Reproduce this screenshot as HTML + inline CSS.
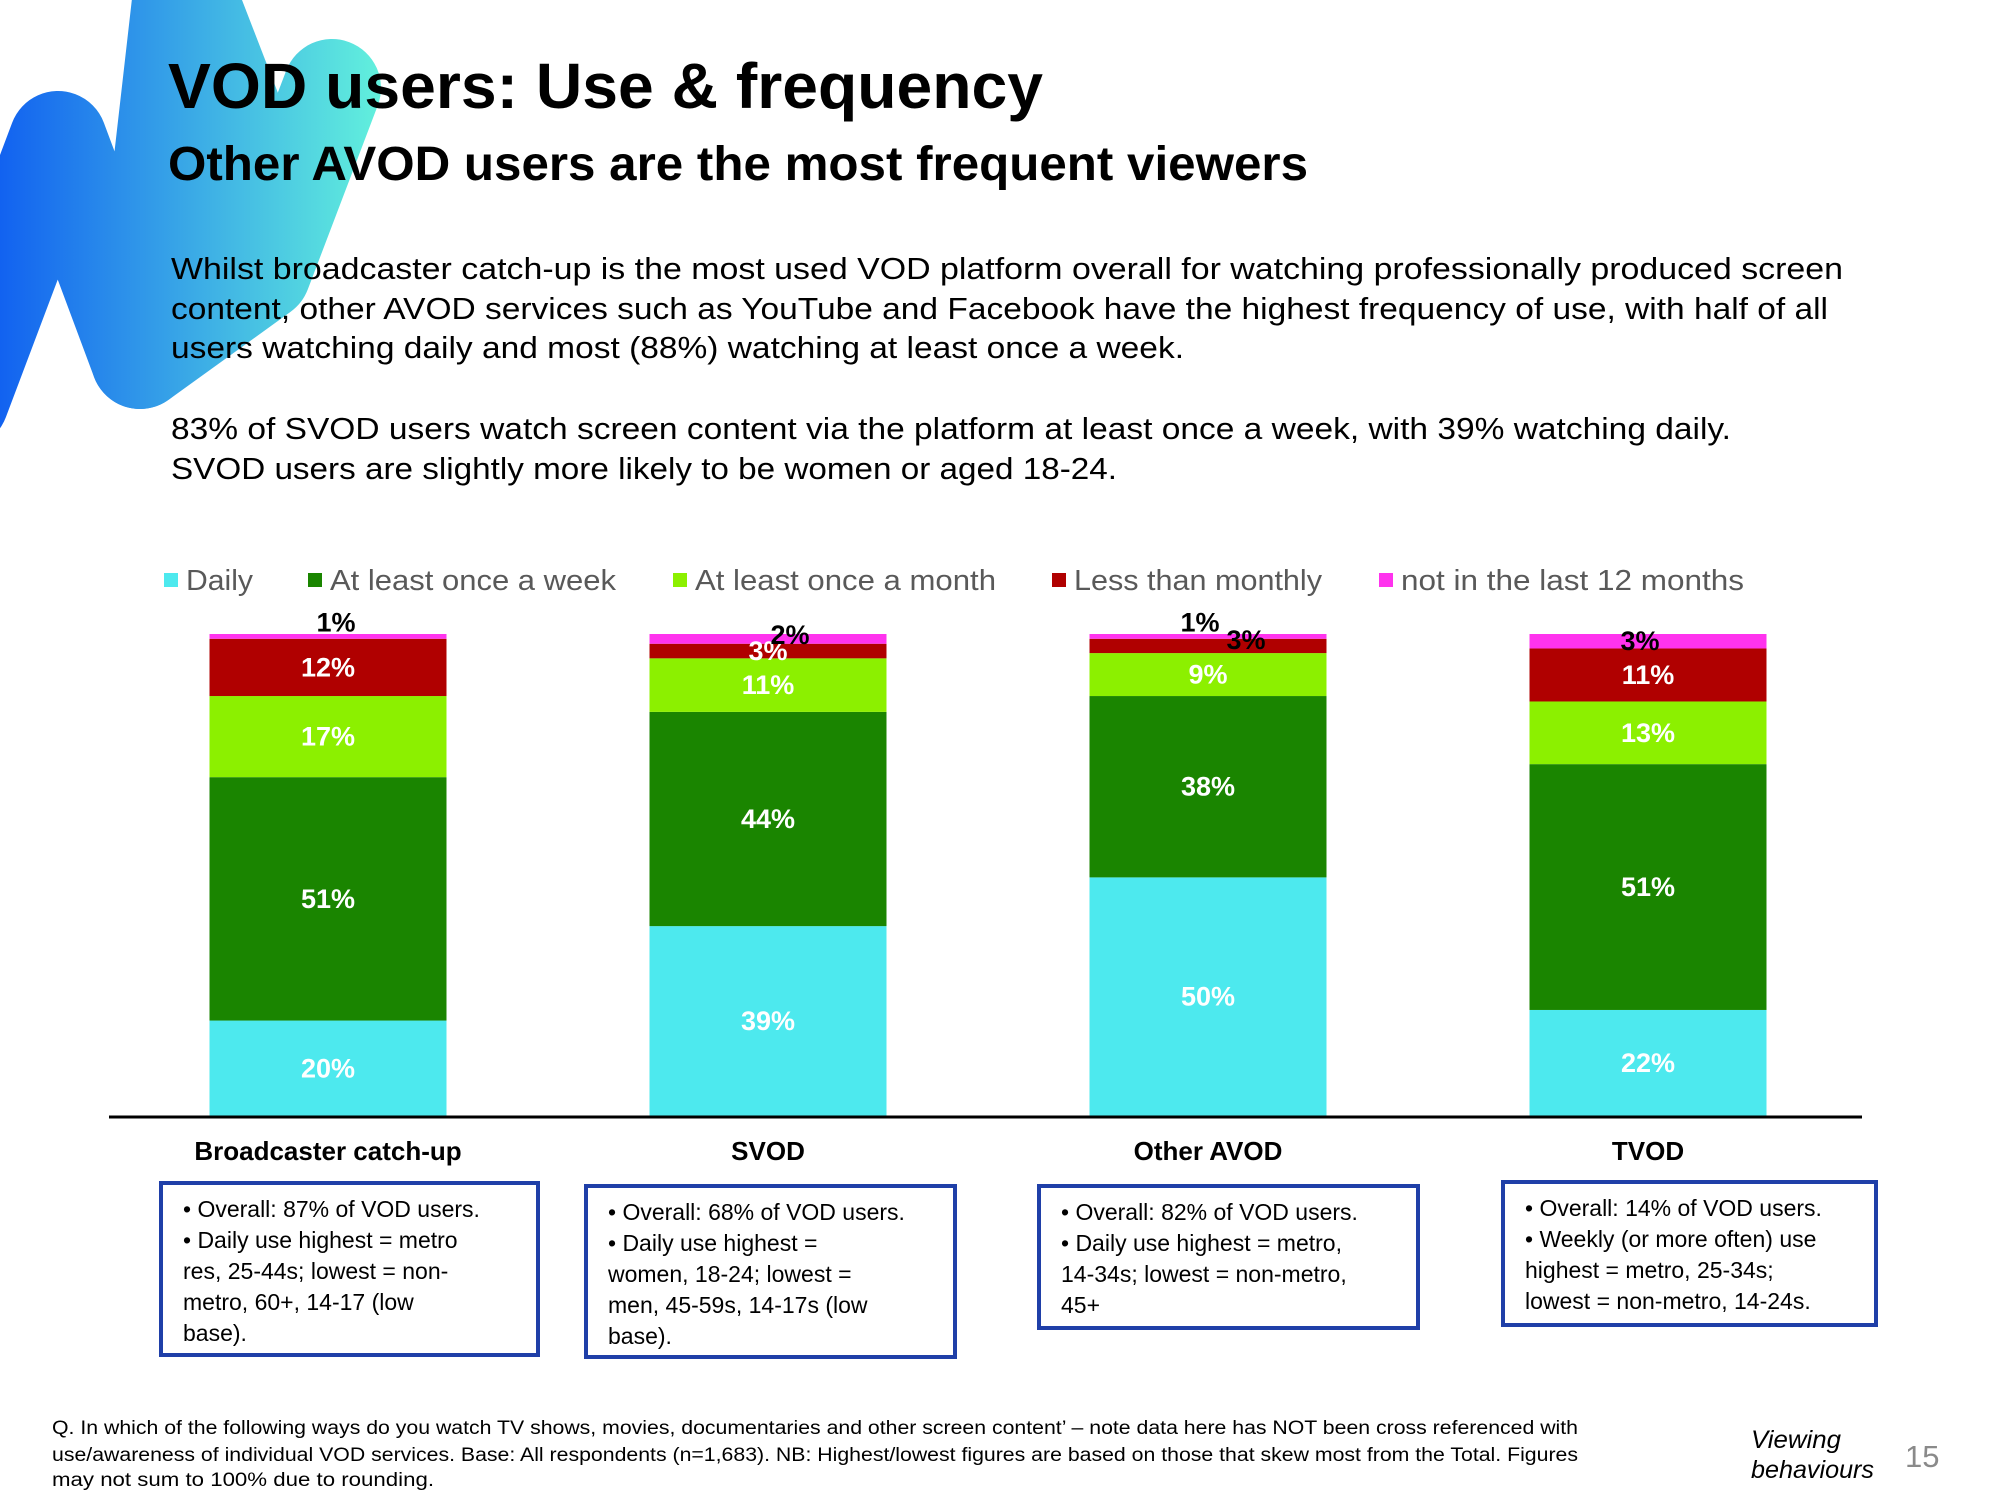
<!DOCTYPE html>
<html><head><meta charset="utf-8"><title>VOD users: Use &amp; frequency</title>
<style>
html,body{margin:0;padding:0;background:#fff;}
svg{display:block;}
.h{font-family:"Liberation Sans","DejaVu Sans",sans-serif;}
</style></head>
<body>
<svg id="page" width="2000" height="1500" viewBox="0 0 2000 1500" xmlns="http://www.w3.org/2000/svg">
<defs>
<linearGradient id="swg" gradientUnits="userSpaceOnUse" x1="0" y1="0" x2="390" y2="0">
<stop offset="0" stop-color="#1262f0"/><stop offset="1" stop-color="#64f4dc"/></linearGradient>
</defs>
<g fill="none" stroke="url(#swg)" stroke-width="98" stroke-linecap="round" stroke-linejoin="round">
<path d="M -40 400 L 58 140 L 140 360 L 188 -60"/>
<path d="M 332 88 L 262 272 L 140 360"/>
<polygon points="190,0 242,0 300,150 262,272 190,300 150,200" fill="url(#swg)" stroke="none"/>
</g>
<g class="h">
<text x="168" y="108" font-size="64" font-weight="bold" fill="#000" textLength="875" lengthAdjust="spacingAndGlyphs">VOD users: Use &amp; frequency</text>
<text x="168" y="180" font-size="48" font-weight="bold" fill="#000" textLength="1140" lengthAdjust="spacingAndGlyphs">Other AVOD users are the most frequent viewers</text>
</g>
<g class="h" font-size="31" fill="#000">
<text x="171" y="279" textLength="1672" lengthAdjust="spacingAndGlyphs">Whilst broadcaster catch-up is the most used VOD platform overall for watching professionally produced screen</text>
<text x="171" y="319" textLength="1657" lengthAdjust="spacingAndGlyphs">content, other AVOD services such as YouTube and Facebook have the highest frequency of use, with half of all</text>
<text x="171" y="358" textLength="1013" lengthAdjust="spacingAndGlyphs">users watching daily and most (88%) watching at least once a week.</text>
<text x="171" y="439" textLength="1560" lengthAdjust="spacingAndGlyphs">83% of SVOD users watch screen content via the platform at least once a week, with 39% watching daily.</text>
<text x="171" y="479" textLength="946" lengthAdjust="spacingAndGlyphs">SVOD users are slightly more likely to be women or aged 18-24.</text>
</g>
<g id="legend" class="h"></g>
<g id="chart" class="h"></g>
<g id="boxes" class="h"></g>
<g class="h" font-size="19" fill="#000">
<text x="52" y="1434" textLength="1526" lengthAdjust="spacingAndGlyphs">Q. In which of the following ways do you watch TV shows, movies, documentaries and other screen content’ – note data here has NOT been cross referenced with</text>
<text x="52" y="1461" textLength="1526" lengthAdjust="spacingAndGlyphs">use/awareness of individual VOD services. Base: All respondents (n=1,683). NB: Highest/lowest figures are based on those that skew most from the Total. Figures</text>
<text x="52" y="1486" textLength="382" lengthAdjust="spacingAndGlyphs">may not sum to 100% due to rounding.</text>
<text x="1751" y="1448" font-size="25" font-style="italic" textLength="90" lengthAdjust="spacingAndGlyphs">Viewing</text>
<text x="1751" y="1478" font-size="25" font-style="italic" textLength="123" lengthAdjust="spacingAndGlyphs">behaviours</text>
<text x="1905" y="1467" font-size="31" fill="#8a8a8a">15</text>
</g>
</svg>
<script>
const categories = ["Broadcaster catch-up", "SVOD", "Other AVOD", "TVOD"];
const seriesNames = ["Daily", "At least once a week", "At least once a month", "Less than monthly", "not in the last 12 months"];
const daily = [20, 39, 50, 22];
const weekly = [51, 44, 38, 51];
const monthly = [17, 11, 9, 13];
const lessMonthly = [12, 3, 3, 11];
const notLast12 = [1, 2, 1, 3];
const seriesColors = ["#4de9ee", "#1a8500", "#8cf000", "#b00000", "#ff33ee"];

const NS = "http://www.w3.org/2000/svg";
function mk(tag, attrs, parent) {
  const e = document.createElementNS(NS, tag);
  for (const k in attrs) e.setAttribute(k, attrs[k]);
  parent.appendChild(e);
  return e;
}
const series = [daily, weekly, monthly, lessMonthly, notLast12];
const plotLeft = 109, plotRight = 1869, plotTop = 634, plotBottom = 1116;
const slot = 440;
const barW = 237;
function xCenter(i) { return plotLeft + slot * (i + 0.5) - 1; }
function yScale(frac) { return plotBottom - frac * (plotBottom - plotTop); }

// legend
const legend = document.getElementById("legend");
const legX = [164, 308, 673, 1052, 1379];
const legW = [67, 286, 301, 248, 343];
seriesNames.forEach((n, s) => {
  const sw = mk("rect", {x: legX[s], y: 573, width: 14, height: 14, fill: seriesColors[s]}, legend);
  
  
  const t = mk("text", {x: legX[s] + 22, y: 590, "font-size": 29, fill: "#595959", textLength: legW[s], lengthAdjust: "spacingAndGlyphs"}, legend);
  t.textContent = n;
  
  
});

// bars
const chart = document.getElementById("chart");
const smallLabelDx = {"0-4": 8, "1-4": 22, "2-4": -8, "2-3": 38, "3-4": -8};
const smallLabelDy = {"0-4": -14, "1-4": -4, "2-4": -14, "2-3": -6, "3-4": 0};
categories.forEach((c, i) => {
  let total = 0;
  series.forEach(s => total += s[i]);
  let cum = 0;
  const cx = xCenter(i);
  const labels = [];
  series.forEach((s, k) => {
    const y0 = yScale(cum / total), y1 = yScale((cum + s[i]) / total);
    const r = mk("rect", {x: cx - barW / 2, y: y1, width: barW, height: y0 - y1, fill: seriesColors[k]}, chart);
    
    
    const key = i + "-" + k;
    const small = s[i] <= 3;
    const dark = small && !(i === 1 && k === 3);
    labels.push({x: cx + (smallLabelDx[key] || 0), y: (y0 + y1) / 2 + (smallLabelDy[key] || 0), v: s[i], dark: dark});
    cum += s[i];
  });
  labels.forEach(l => {
    const t = mk("text", {x: l.x, y: l.y, "text-anchor": "middle", "dominant-baseline": "central", "font-size": 27, "font-weight": "bold", fill: l.dark ? "#000" : "#fff"}, chart);
    t.textContent = l.v + "%";
    
    
  });
  const cl = mk("text", {x: cx, y: 1160, "text-anchor": "middle", "font-size": 26, "font-weight": "bold", fill: "#000"}, chart);
  cl.textContent = c;
  
  
});
const axis = mk("line", {x1: plotLeft, x2: 1862, y1: plotBottom + 1, y2: plotBottom + 1, stroke: "#000", "stroke-width": 3}, chart);



// note boxes
const boxes = document.getElementById("boxes");
const boxRects = [[161, 1183, 377, 172], [586, 1186, 369, 171], [1039, 1186, 379, 142], [1503, 1182, 373, 143]];
const boxLines = [
  ["• Overall: 87% of VOD users.", "• Daily use highest = metro", "res, 25-44s; lowest = non-", "metro, 60+, 14-17 (low", "base)."],
  ["• Overall: 68% of VOD users.", "• Daily use highest =", "women, 18-24; lowest =", "men, 45-59s, 14-17s (low", "base)."],
  ["• Overall: 82% of VOD users.", "• Daily use highest = metro,", "14-34s; lowest = non-metro,", "45+"],
  ["• Overall: 14% of VOD users.", "• Weekly (or more often) use", "highest = metro, 25-34s;", "lowest = non-metro, 14-24s."]
];
boxRects.forEach((b, i) => {
  const r = mk("rect", {x: b[0], y: b[1], width: b[2], height: b[3], fill: "#fff", stroke: "#1f3fa8", "stroke-width": 4}, boxes);
  
  
  boxLines[i].forEach((ln, j) => {
    const t = mk("text", {x: b[0] + 22, y: b[1] + 34 + j * 31, "font-size": 23, fill: "#000"}, boxes);
    t.textContent = ln;
    
    
  });
});
</script>
</body></html>
